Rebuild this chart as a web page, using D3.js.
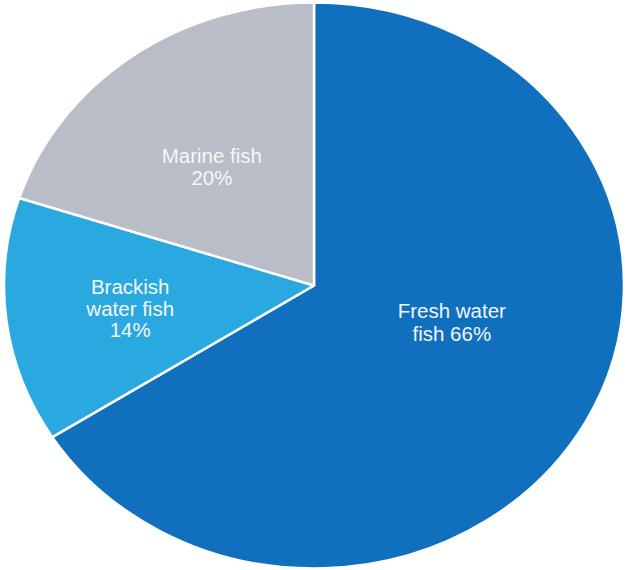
<!DOCTYPE html>
<html>
<head>
<meta charset="utf-8">
<script src="https://cdn.jsdelivr.net/npm/d3@7"></script>
<style>
  html, body { margin: 0; padding: 0; background: #ffffff; }
  svg { display: block; }
  text { font-family: "Liberation Sans", Arial, sans-serif; }
</style>
</head>
<body>
<svg id="chart" width="629" height="570"></svg>
<script>
// Share of fish production by water type (percent)
const categories = ["Fresh water fish", "Brackish water fish", "Marine fish"];
const shares = [66, 14, 20];
const labelLines = [["Fresh water", "fish 66%"], ["Brackish", "water fish", "14%"], ["Marine fish", "20%"]];
const colors = ["#1170be", "#2aa9e1", "#b8bdc8"];

// Layout
const width = 629, height = 570;
const cx = 314, cy = 285.5;
const ry = 283, rx = 310;          // the pie is drawn slightly wider than tall
const sx = rx / ry;
const fontSize = 20.5;
const labelNudge = [[2, -32, 23], [-30, 5, 21.5], [-11, -4, 22]]; // dx, dy, line height

const svg = d3.select("#chart");

const data = categories.map((c, i) => ({ name: c, value: shares[i], lines: labelLines[i], color: colors[i] }));

const pie = d3.pie().value(d => d.value).sort(null).startAngle(0).endAngle(2 * Math.PI);
const arcs = pie(data);

const arc = d3.arc().innerRadius(0).outerRadius(ry);
const labelArc = d3.arc().innerRadius(ry * 0.5).outerRadius(ry * 0.5);

const g = svg.append("g").attr("transform", `translate(${cx},${cy}) scale(${sx},1)`);

g.selectAll("path")
  .data(arcs)
  .join("path")
  .attr("d", arc)
  .attr("fill", d => d.data.color)
  .attr("stroke", "#ffffff")
  .attr("stroke-width", 2.5)
  .attr("stroke-linejoin", "round")
  .attr("vector-effect", "non-scaling-stroke");

// Labels placed in unscaled coordinates so the text keeps its proportions
const labels = svg.append("g");
arcs.forEach((d, i) => {
  const [mx, my] = labelArc.centroid(d);
  const [ox, oy, lh] = labelNudge[i];
  const x = cx + mx * sx + ox;
  const y = cy + my + oy;
  const n = d.data.lines.length;
  const firstBaseline = y - (n - 1) * lh / 2 + fontSize * 0.36;
  const t = labels.append("text")
    .attr("text-anchor", "middle")
    .attr("fill", "#f4f7fb")
    .attr("font-size", fontSize);
  d.data.lines.forEach((line, j) => {
    t.append("tspan")
      .attr("x", x)
      .attr("y", firstBaseline + j * lh)
      .text(line);
  });
});
</script>
</body>
</html>
